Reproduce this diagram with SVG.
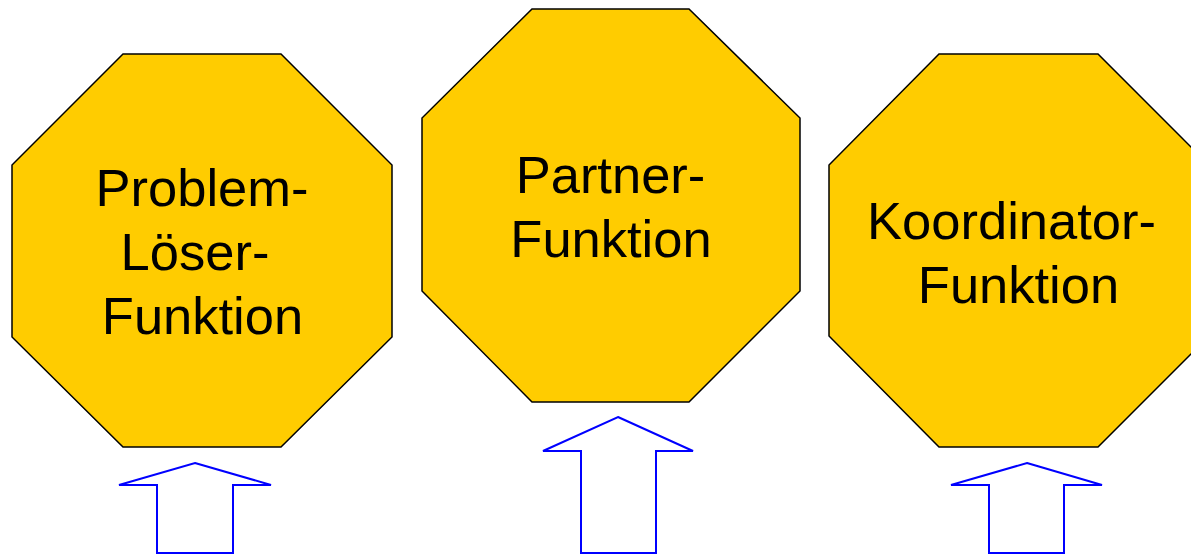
<svg xmlns="http://www.w3.org/2000/svg" width="1191" height="555" viewBox="0 0 1191 555">
<style>
.oct{fill:#FFCC00;stroke:#000;stroke-width:1.5;stroke-linejoin:miter}
.lbl{font-family:"Liberation Sans",Arial,sans-serif;font-size:52.5px;fill:#000;text-anchor:middle}
.arr{fill:#fff;stroke:#0000FF;stroke-width:2;stroke-linejoin:miter}
</style>
<rect width="1191" height="555" fill="#fff"/>
<g id="node-problemloeser">
<polygon class="oct" points="123,54 281,54 392,165 392,337 281,447 123,447 12,337 12,165"/>
<text class="lbl" x="202" y="206">Problem-</text>
<text class="lbl" x="195" y="270">Löser-</text>
<text class="lbl" x="202.5" y="334">Funktion</text>
</g>
<g id="node-partner">
<polygon class="oct" points="532,9 689,9 800,118 800,291 689,402 532,402 422,291 422,118"/>
<text class="lbl" x="610.5" y="193">Partner-</text>
<text class="lbl" x="611" y="257">Funktion</text>
</g>
<g id="node-koordinator">
<polygon class="oct" points="939,54 1098,54 1209,165 1209,336 1098,447 939,447 829,336 829,165"/>
<text class="lbl" x="1011.5" y="239">Koordinator-</text>
<text class="lbl" x="1018.5" y="303">Funktion</text>
</g>
<g id="connectors">
<polygon class="arr" points="195,463 271,485 233,485 233,553 157,553 157,485 119,485"/>
<polygon class="arr" points="618,417 693,451 656,451 656,553 581,553 581,451 543,451"/>
<polygon class="arr" points="1027,463 1102,485 1064,485 1064,553 989,553 989,485 951,485"/>
</g>
</svg>
